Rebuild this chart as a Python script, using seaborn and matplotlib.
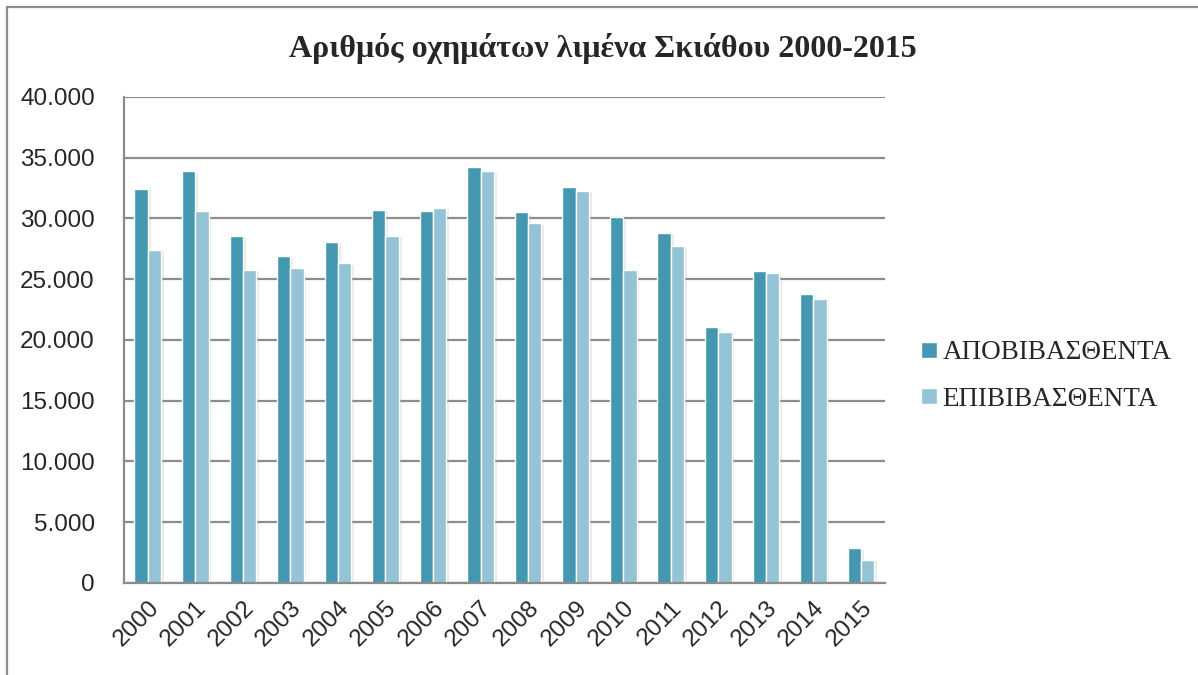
import numpy as np
import pandas as pd
import matplotlib
matplotlib.use("Agg")
import matplotlib.pyplot as plt
import matplotlib.patheffects as pe
from matplotlib.lines import Line2D
from matplotlib.ticker import FuncFormatter
import seaborn as sns

# data
years = [str(y) for y in range(2000, 2016)]
apobibasthenta = [32450, 33900, 28600, 26900, 28100, 30700, 30600, 34200,
                  30500, 32600, 30100, 28800, 21050, 25700, 23800, 2850]
epibibasthenta = [27400, 30600, 25800, 25900, 26300, 28600, 30900, 33900,
                  29600, 32300, 25800, 27700, 20650, 25500, 23400, 1900]
series_names = ["ΑΠΟΒΙΒΑΣΘΕΝΤΑ", "ΕΠΙΒΙΒΑΣΘΕΝΤΑ"]
colors = ["#4398b0", "#93c3d5"]

df = pd.DataFrame({
    "year": years * 2,
    "value": apobibasthenta + epibibasthenta,
    "series": [series_names[0]] * len(years) + [series_names[1]] * len(years),
})

sns.set_style("white")
plt.rcParams["font.family"] = ["Liberation Sans", "DejaVu Sans"]

fig = plt.figure(figsize=(11.98, 6.75), dpi=100)
ax = fig.add_axes([0.1035, 0.1363, 0.635, 0.72])

sns.barplot(data=df, x="year", y="value", hue="series", palette=colors,
            saturation=1, width=0.56, edgecolor="white", linewidth=1.0,
            ax=ax, legend=False)

# soft shadow to the right of each bar
for p in ax.patches:
    p.set_path_effects([pe.SimplePatchShadow(offset=(2, -1), shadow_rgbFace="#b0b0b0", alpha=0.25),
                        pe.Normal()])

ax.set_ylim(0, 40000)
ax.set_xlim(-0.5, len(years) - 0.5)
ax.set_yticks(np.arange(0, 40001, 5000))
ax.yaxis.set_major_formatter(FuncFormatter(lambda v, _: f"{int(v):,}".replace(",", ".")))
ax.yaxis.grid(True, color="#8c8c8c", linewidth=1.6)
ax.set_axisbelow(True)
ax.set_xlabel("")
ax.set_ylabel("")

for s in ["top", "right"]:
    ax.spines[s].set_visible(False)
ax.spines["left"].set_color("#8c8c8c")
ax.spines["left"].set_linewidth(1.6)
ax.spines["bottom"].set_color("#8c8c8c")
ax.spines["bottom"].set_linewidth(1.6)

ax.tick_params(axis="y", labelsize=17.5, pad=21, length=0)
ax.tick_params(axis="x", labelsize=17.5, pad=10, length=0)
for lbl in ax.get_xticklabels():
    lbl.set_rotation(45)
    lbl.set_ha("right")
    lbl.set_va("top")
    lbl.set_rotation_mode("anchor")

fig.text(0.503, 0.928, "Αριθμός οχημάτων λιμένα Σκιάθου 2000-2015",
         ha="center", va="center", fontsize=23, fontweight="bold",
         family=["Liberation Serif", "DejaVu Serif"])

handles = [Line2D([0], [0], marker="s", color="none", markerfacecolor=c,
                  markeredgecolor="white", markersize=11) for c in colors]
fig.legend(handles, series_names, loc="center left", bbox_to_anchor=(0.745, 0.443),
           frameon=False, handletextpad=0.05, handlelength=0.9, labelspacing=0.78,
           prop={"family": ["Liberation Serif", "DejaVu Serif"], "size": 19.5})

# outer chart border (left and top only visible in the reference)
fig.add_artist(Line2D([0.006, 0.006], [0.0, 0.99], color="#8c8c8c", lw=1.6))
fig.add_artist(Line2D([0.006, 1.0], [0.99, 0.99], color="#8c8c8c", lw=1.6))

fig.savefig("out.png", dpi=100, facecolor="white")
